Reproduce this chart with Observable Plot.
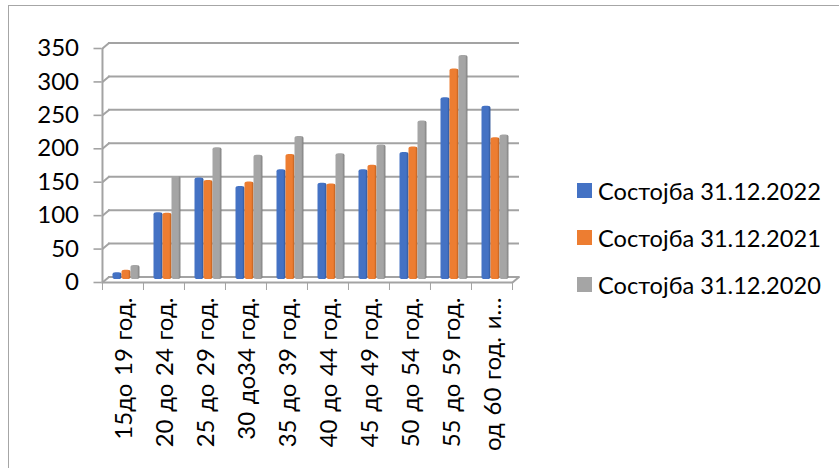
<!DOCTYPE html>
<html><head><meta charset="utf-8">
<script src="https://cdn.jsdelivr.net/npm/d3@7"></script>
<script src="https://cdn.jsdelivr.net/npm/@observablehq/plot@0.6"></script>
<style>
html,body{margin:0;padding:0;background:#fff;}
#wrap{position:relative;width:839px;height:468px;overflow:hidden;font-family:Lato,"Noto Sans",sans-serif;}
#frame{position:absolute;left:8px;top:5px;width:831px;height:463px;border-left:1.5px solid #a6a6a6;border-top:1.5px solid #a6a6a6;box-sizing:border-box;}
#legend{position:absolute;left:577px;top:167px;font-size:23.6px;color:#000;}
#legend div{height:47px;display:flex;align-items:center;white-space:nowrap;}
#legend i{display:inline-block;width:15px;height:15px;margin-right:6px;}
svg{position:absolute;left:0;top:0;}
</style></head><body>
<div id="wrap"><div id="frame"></div><div id="chart"></div><div id="legend"></div></div>
<script>
const categories = ["15до 19 год.","20 до 24 год.","25 до 29 год.","30 до34 год.","35 до 39 год.","40 до 44 год.","45 до 49 год.","50 до 54 год.","55 до 59 год.","од 60 год. и…"];
const s2022 = [10,100,152,139,164,144,164,190,272,259];
const s2021 = [14,99,148,146,187,143,171,198,315,212];
const s2020 = [21,154,197,186,214,188,201,237,335,216];
const seriesNames = ["Состојба 31.12.2022","Состојба 31.12.2021","Состојба 31.12.2020"];
const seriesValues = [s2022,s2021,s2020];
const colors = ["#4472c4","#ed7d31","#a5a5a5"];
const darks = ["#2f5597","#b85c1c","#7b7b7b"];
const yTicks = [0,50,100,150,200,250,300,350];

const NS="http://www.w3.org/2000/svg";
function defs(){
  const d=document.createElementNS(NS,"defs");
  colors.forEach((c,i)=>{
    const g=document.createElementNS(NS,"linearGradient");
    g.setAttribute("id","g"+i);
    [[0,c],[.75,c],[1,darks[i]]].forEach(([o,col])=>{
      const s=document.createElementNS(NS,"stop");
      s.setAttribute("offset",o);s.setAttribute("stop-color",col);g.appendChild(s);
    });
    d.appendChild(g);
  });
  return d;
}
const line={draw(ctx,l){ctx.moveTo(0,0);ctx.lineTo(0,-l);}};
const first=categories[0], last=categories[categories.length-1];
const barW=9, outer=7, band=41.05;
const grid="#a3a3a3";
const plot=Plot.plot({
  width:839,height:468,
  marginLeft:101.5,marginRight:326.5,marginTop:48,marginBottom:186,
  style:{background:"transparent",fontFamily:"Lato,'Noto Sans',sans-serif",color:"#000",wordSpacing:"1.5px"},
  x:{domain:categories,padding:0,label:null,axis:null},
  y:{domain:[0,350],label:null,axis:null},
  marks:[
    ()=>defs(),
    Plot.ruleY(yTicks,{dx:6.5,dy:-5.5,stroke:grid,strokeWidth:2}),
    Plot.vector(yTicks,{x:()=>first,y:d=>d,dx:-band/2,length:8.5,rotate:50,anchor:"start",shape:line,stroke:grid,strokeWidth:2}),
    Plot.vector([0],{x:()=>last,y:d=>d,dx:band/2,length:8.5,rotate:50,anchor:"start",shape:line,stroke:grid,strokeWidth:2}),
    Plot.ruleY([0],{stroke:grid,strokeWidth:2}),
    Plot.ruleX([first],{dx:-band/2,stroke:grid,strokeWidth:2}),
    Plot.axisY({ticks:yTicks,tickSize:8,tickPadding:15,fontSize:24,stroke:grid,strokeWidth:1.6,color:"#000",label:null}),
    Plot.axisX({tickSize:8,dx:-band/2,tickFormat:()=>"",stroke:grid,label:null}),
    Plot.axisX({ticks:[last],tickSize:8,dx:band/2,tickFormat:()=>"",stroke:grid,label:null}),
    Plot.axisX({tickSize:0,tickRotate:-90,tickPadding:15,fontSize:24,textAnchor:"end",color:"#000",label:null,dx:1}),
    ...seriesValues.map((vals,i)=>Plot.barY(categories.map((c,j)=>({c,v:vals[j]})),{
      x:"c",y:"v",fill:`url(#g${i})`,
      insetLeft:outer+barW*i,insetRight:band-outer-barW*(i+1),
      dx:3.5,dy:-3,rx:3,ry:2
    }))
  ]
});
document.getElementById("chart").appendChild(plot);
const lg=document.getElementById("legend");
seriesNames.forEach((n,i)=>{
  const r=document.createElement("div");
  const sw=document.createElement("i");sw.style.background=colors[i];
  r.appendChild(sw);r.appendChild(document.createTextNode(n));lg.appendChild(r);
});
</script></body></html>
